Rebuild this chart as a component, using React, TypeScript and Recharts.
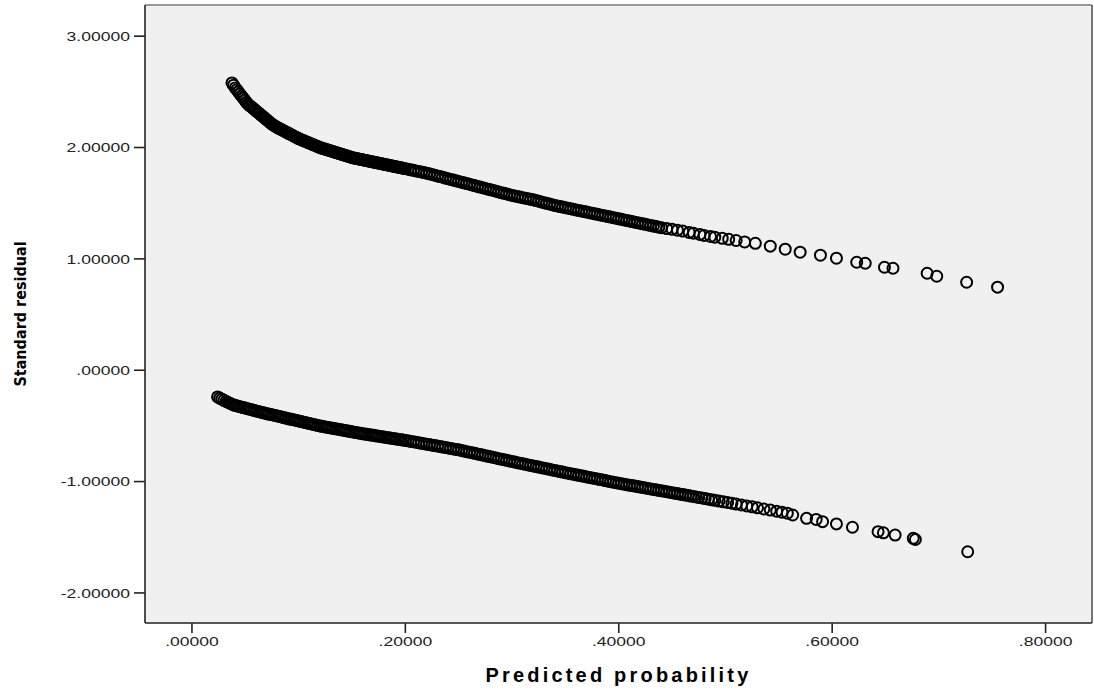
import React from "react";
import {
  ScatterChart,
  Scatter,
  XAxis,
  YAxis,
  CartesianGrid,
  ReferenceLine,
  Label,
} from "recharts";

// [predicted probability, standard residual], cases with outcome = 1
const upperPoints: [number, number][] = [
  [0.0375,2.58],[0.039,2.56],[0.0405,2.535],[0.042,2.52],[0.0435,2.5],[0.045,2.48],
  [0.0465,2.462],[0.048,2.444],[0.0495,2.426],[0.051,2.405],[0.0525,2.39],[0.054,2.375],
  [0.0555,2.366],[0.057,2.354],[0.0585,2.342],[0.06,2.33],[0.0615,2.318],[0.063,2.306],
  [0.0645,2.294],[0.066,2.282],[0.0675,2.27],[0.069,2.258],[0.0705,2.246],[0.072,2.234],
  [0.0735,2.222],[0.075,2.21],[0.0765,2.201],[0.078,2.192],[0.0795,2.183],[0.081,2.175],
  [0.0825,2.168],[0.084,2.16],[0.0855,2.153],[0.087,2.145],[0.0885,2.138],[0.09,2.13],
  [0.0915,2.123],[0.093,2.115],[0.0945,2.108],[0.096,2.1],[0.0975,2.093],[0.099,2.085],
  [0.1005,2.078],[0.102,2.072],[0.1035,2.066],[0.105,2.06],[0.1065,2.054],[0.108,2.048],
  [0.1095,2.042],[0.111,2.036],[0.1125,2.03],[0.114,2.024],[0.1155,2.018],[0.117,2.012],
  [0.1185,2.006],[0.12,2.0],[0.1215,1.995],[0.123,1.991],[0.1245,1.987],[0.126,1.982],
  [0.1275,1.978],[0.129,1.973],[0.1305,1.969],[0.132,1.964],[0.1335,1.96],[0.135,1.955],
  [0.1365,1.951],[0.138,1.946],[0.1395,1.942],[0.141,1.937],[0.1425,1.933],[0.144,1.928],
  [0.1455,1.924],[0.147,1.919],[0.1485,1.915],[0.15,1.91],[0.1515,1.907],[0.153,1.904],
  [0.1545,1.901],[0.156,1.898],[0.1575,1.895],[0.159,1.892],[0.1605,1.889],[0.162,1.886],
  [0.1635,1.883],[0.165,1.88],[0.1665,1.877],[0.168,1.874],[0.1695,1.871],[0.171,1.868],
  [0.1725,1.865],[0.174,1.862],[0.1755,1.859],[0.177,1.856],[0.1785,1.853],[0.18,1.85],
  [0.1815,1.847],[0.183,1.844],[0.1845,1.841],[0.186,1.838],[0.1875,1.835],[0.189,1.832],
  [0.1905,1.829],[0.192,1.826],[0.1935,1.823],[0.195,1.82],[0.1965,1.817],[0.198,1.814],
  [0.1995,1.811],[0.2025,1.805],[0.205,1.8],[0.2075,1.795],[0.21,1.79],[0.2125,1.785],
  [0.215,1.78],[0.2175,1.775],[0.22,1.77],[0.2225,1.764],[0.225,1.758],[0.2275,1.751],
  [0.23,1.745],[0.2325,1.739],[0.235,1.733],[0.2375,1.726],[0.24,1.72],[0.2425,1.714],
  [0.245,1.708],[0.2475,1.701],[0.25,1.695],[0.2525,1.689],[0.255,1.683],[0.2575,1.676],
  [0.26,1.67],[0.2625,1.664],[0.265,1.658],[0.2675,1.651],[0.27,1.645],[0.2725,1.639],
  [0.275,1.633],[0.2775,1.626],[0.28,1.62],[0.2825,1.614],[0.285,1.608],[0.2875,1.601],
  [0.29,1.595],[0.2925,1.589],[0.295,1.583],[0.2975,1.576],[0.3,1.57],[0.3025,1.565],
  [0.305,1.56],[0.3075,1.555],[0.31,1.55],[0.3125,1.545],[0.315,1.54],[0.3175,1.535],
  [0.32,1.53],[0.3225,1.524],[0.325,1.518],[0.3275,1.511],[0.33,1.505],[0.3325,1.499],
  [0.335,1.493],[0.3375,1.486],[0.34,1.48],[0.3425,1.475],[0.345,1.47],[0.3475,1.465],
  [0.35,1.46],[0.3525,1.455],[0.355,1.45],[0.3575,1.445],[0.36,1.44],[0.3625,1.435],
  [0.365,1.43],[0.3675,1.425],[0.37,1.42],[0.3725,1.415],[0.375,1.41],[0.3775,1.405],
  [0.38,1.4],[0.3825,1.395],[0.385,1.39],[0.3875,1.385],[0.39,1.38],[0.3925,1.375],
  [0.395,1.37],[0.3975,1.365],[0.4,1.36],[0.4025,1.355],[0.405,1.35],[0.4075,1.345],
  [0.41,1.34],[0.4125,1.335],[0.415,1.33],[0.4175,1.325],[0.42,1.32],[0.4225,1.315],
  [0.425,1.31],[0.4275,1.305],[0.43,1.3],[0.4325,1.295],[0.435,1.29],[0.4375,1.285],
  [0.44,1.28],[0.445,1.272],[0.45,1.265],[0.455,1.258],[0.46,1.25],[0.466,1.238],
  [0.47,1.23],[0.476,1.22],[0.48,1.21],[0.486,1.201],[0.49,1.195],[0.497,1.185],
  [0.503,1.176],[0.51,1.165],[0.518,1.152],[0.528,1.14],[0.542,1.114],[0.556,1.087],
  [0.57,1.06],[0.589,1.033],[0.604,1.006],[0.623,0.97],[0.631,0.961],[0.649,0.925],
  [0.657,0.916],[0.689,0.871],[0.698,0.844],[0.726,0.79],[0.755,0.746],
];

// cases with outcome = 0
const lowerPoints: [number, number][] = [
  [0.024,-0.24],[0.026,-0.25],[0.028,-0.26],[0.03,-0.27],[0.032,-0.28],[0.034,-0.29],
  [0.036,-0.299],[0.038,-0.307],[0.04,-0.315],[0.042,-0.32],[0.044,-0.325],[0.046,-0.33],
  [0.048,-0.335],[0.05,-0.34],[0.052,-0.345],[0.054,-0.35],[0.056,-0.355],[0.058,-0.36],
  [0.06,-0.365],[0.062,-0.37],[0.064,-0.375],[0.066,-0.38],[0.068,-0.385],[0.07,-0.39],
  [0.072,-0.394],[0.074,-0.398],[0.076,-0.402],[0.078,-0.406],[0.08,-0.41],[0.082,-0.415],
  [0.084,-0.42],[0.086,-0.425],[0.088,-0.43],[0.09,-0.435],[0.092,-0.439],[0.094,-0.443],
  [0.096,-0.447],[0.098,-0.451],[0.1,-0.455],[0.102,-0.46],[0.104,-0.464],[0.106,-0.469],
  [0.108,-0.473],[0.11,-0.478],[0.112,-0.482],[0.114,-0.487],[0.116,-0.491],[0.118,-0.496],
  [0.12,-0.5],[0.122,-0.504],[0.124,-0.507],[0.126,-0.511],[0.128,-0.514],[0.13,-0.518],
  [0.132,-0.521],[0.134,-0.525],[0.136,-0.528],[0.138,-0.532],[0.14,-0.535],[0.142,-0.539],
  [0.144,-0.542],[0.146,-0.546],[0.148,-0.549],[0.15,-0.553],[0.152,-0.556],[0.154,-0.56],
  [0.156,-0.563],[0.158,-0.567],[0.16,-0.57],[0.162,-0.573],[0.164,-0.576],[0.166,-0.579],
  [0.168,-0.582],[0.17,-0.585],[0.172,-0.588],[0.174,-0.591],[0.176,-0.594],[0.178,-0.597],
  [0.18,-0.6],[0.182,-0.603],[0.184,-0.606],[0.186,-0.609],[0.188,-0.612],[0.19,-0.615],
  [0.192,-0.618],[0.194,-0.621],[0.196,-0.624],[0.198,-0.627],[0.2,-0.63],[0.2025,-0.634],
  [0.205,-0.639],[0.2075,-0.643],[0.21,-0.647],[0.2125,-0.651],[0.215,-0.656],[0.2175,-0.66],
  [0.22,-0.664],[0.2225,-0.668],[0.225,-0.673],[0.2275,-0.677],[0.23,-0.681],[0.2325,-0.685],
  [0.235,-0.69],[0.2375,-0.694],[0.24,-0.698],[0.2425,-0.702],[0.245,-0.707],[0.2475,-0.711],
  [0.25,-0.715],[0.2525,-0.72],[0.255,-0.726],[0.2575,-0.731],[0.26,-0.736],[0.2625,-0.741],
  [0.265,-0.746],[0.2675,-0.752],[0.27,-0.757],[0.2725,-0.762],[0.275,-0.767],[0.2775,-0.773],
  [0.28,-0.778],[0.2825,-0.783],[0.285,-0.788],[0.2875,-0.794],[0.29,-0.799],[0.2925,-0.804],
  [0.295,-0.809],[0.2975,-0.815],[0.3,-0.82],[0.3025,-0.825],[0.305,-0.83],[0.3075,-0.835],
  [0.31,-0.84],[0.3125,-0.845],[0.315,-0.85],[0.3175,-0.855],[0.32,-0.86],[0.3225,-0.865],
  [0.325,-0.87],[0.3275,-0.875],[0.33,-0.88],[0.3325,-0.885],[0.335,-0.89],[0.3375,-0.895],
  [0.34,-0.9],[0.3425,-0.905],[0.345,-0.91],[0.3475,-0.915],[0.35,-0.92],[0.3525,-0.925],
  [0.355,-0.93],[0.3575,-0.934],[0.36,-0.939],[0.3625,-0.944],[0.365,-0.948],[0.3675,-0.953],
  [0.37,-0.958],[0.3725,-0.963],[0.375,-0.968],[0.3775,-0.972],[0.38,-0.977],[0.3825,-0.982],
  [0.385,-0.986],[0.3875,-0.991],[0.39,-0.996],[0.3925,-1.001],[0.395,-1.006],[0.3975,-1.01],
  [0.4,-1.015],[0.4025,-1.019],[0.405,-1.023],[0.4075,-1.028],[0.41,-1.032],[0.4125,-1.036],
  [0.415,-1.04],[0.4175,-1.045],[0.42,-1.049],[0.4225,-1.053],[0.425,-1.057],[0.4275,-1.062],
  [0.43,-1.066],[0.4325,-1.07],[0.435,-1.074],[0.4375,-1.079],[0.44,-1.083],[0.4425,-1.087],
  [0.445,-1.091],[0.4475,-1.096],[0.45,-1.1],[0.4525,-1.104],[0.455,-1.108],[0.4575,-1.113],
  [0.46,-1.117],[0.4625,-1.121],[0.465,-1.125],[0.4675,-1.13],[0.47,-1.134],[0.4725,-1.138],
  [0.475,-1.142],[0.478,-1.147],[0.481,-1.153],[0.484,-1.158],[0.487,-1.163],[0.49,-1.168],
  [0.494,-1.175],[0.498,-1.182],[0.502,-1.188],[0.506,-1.195],[0.51,-1.202],[0.515,-1.21],
  [0.52,-1.219],[0.525,-1.227],[0.53,-1.236],[0.536,-1.246],[0.542,-1.256],[0.548,-1.266],
  [0.553,-1.275],[0.558,-1.284],[0.563,-1.3],[0.576,-1.33],[0.585,-1.34],[0.591,-1.36],
  [0.604,-1.38],[0.619,-1.41],[0.643,-1.45],[0.648,-1.46],[0.659,-1.48],[0.676,-1.51],
  [0.678,-1.52],[0.727,-1.63],
];

const xTicks = [0, 0.2, 0.4, 0.6, 0.8];
const yTicks = [-2, -1, 0, 1, 2, 3];
const xDomain: [number, number] = [-0.044, 0.8435];
const yDomain: [number, number] = [-2.27, 3.28];

const toRows = (pts: [number, number][]) => pts.map(([p, r]) => ({ p, r }));

// SPSS style: 3.00000, .20000, -1.00000
const fmt = (v: number) => v.toFixed(5).replace(/^(-?)0\./, "$1.");

const font = "'Liberation Sans', Arial, sans-serif";

const Ring = (props: any) => {
  const { cx, cy } = props;
  if (cx == null || cy == null) return null;
  return <circle cx={cx} cy={cy} r={5.5} fill="none" stroke="#000" strokeWidth={2} />;
};

const YTick = (props: any) => {
  const { x, y, payload } = props;
  return (
    <g transform={`translate(${x},${y})`}>
      <text transform="scale(1.3,1)" textAnchor="end" dy="0.36em" fill="#222" fontSize={13.5} fontFamily={font}>
        {fmt(payload.value)}
      </text>
    </g>
  );
};

const XTick = (props: any) => {
  const { x, y, payload } = props;
  return (
    <g transform={`translate(${x},${y})`}>
      <text transform="scale(1.3,1)" textAnchor="middle" dy="0.72em" fill="#222" fontSize={13.5} fontFamily={font}>
        {fmt(payload.value)}
      </text>
    </g>
  );
};

export default function App() {
  return (
    <div style={{ position: "absolute", left: 0, top: 0, width: 1094, height: 696, background: "#fff" }}>
      <ScatterChart width={1094} height={696} margin={{ top: 5, right: 2, bottom: 33, left: 0 }}>
        <CartesianGrid fill="#f0f0f0" horizontal={false} vertical={false} />
        <XAxis
          type="number"
          dataKey="p"
          domain={xDomain}
          ticks={xTicks}
          allowDataOverflow
          height={40}
          tickSize={10}
          tickMargin={3}
          axisLine={{ stroke: "#222", strokeWidth: 1.6 }}
          tickLine={{ stroke: "#222", strokeWidth: 1.6 }}
          tick={<XTick />}
        >
          <Label
            value="Predicted probability"
            position="bottom"
            offset={5}
            style={{ fontFamily: font, fontWeight: 700, fontSize: 20, letterSpacing: 3.2, fill: "#000" }}
          />
        </XAxis>
        <YAxis
          type="number"
          dataKey="r"
          domain={yDomain}
          ticks={yTicks}
          allowDataOverflow
          width={145}
          tickSize={11}
          tickMargin={4}
          axisLine={{ stroke: "#222", strokeWidth: 1.6 }}
          tickLine={{ stroke: "#222", strokeWidth: 1.6 }}
          tick={<YTick />}
        >
          <Label
            value="Standard residual"
            angle={-90}
            position="insideLeft"
            offset={20}
            style={{
              textAnchor: "middle",
              fontFamily: "'DejaVu Sans Condensed', 'Liberation Sans Narrow', sans-serif",
              fontWeight: 700,
              fontSize: 16,
              fill: "#000",
            }}
          />
        </YAxis>
        <ReferenceLine y={yDomain[1]} stroke="#777" strokeWidth={1.6} ifOverflow="visible" />
        <ReferenceLine x={xDomain[1]} stroke="#555" strokeWidth={1.6} ifOverflow="visible" />
        <Scatter data={toRows(upperPoints)} shape={<Ring />} isAnimationActive={false} />
        <Scatter data={toRows(lowerPoints)} shape={<Ring />} isAnimationActive={false} />
      </ScatterChart>
    </div>
  );
}
